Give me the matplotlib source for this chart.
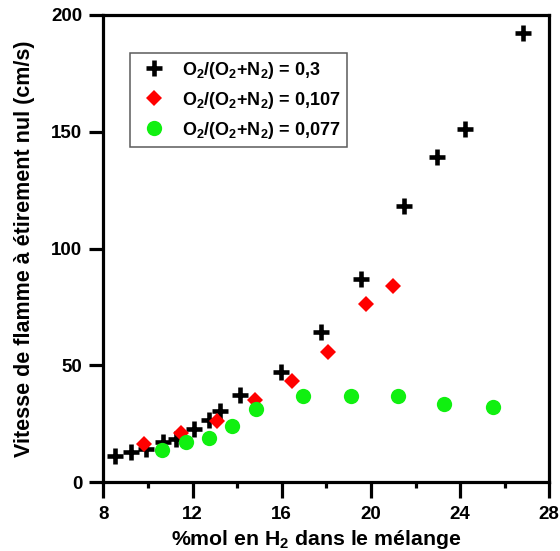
import matplotlib
matplotlib.use('Agg')
import matplotlib.pyplot as plt
from matplotlib.ticker import MultipleLocator

plt.rcParams['font.family'] = ['Liberation Sans', 'DejaVu Sans']
plt.rcParams['font.weight'] = 'bold'
plt.rcParams['mathtext.fontset'] = 'custom'
plt.rcParams['mathtext.rm'] = 'Liberation Sans:bold'
plt.rcParams['mathtext.bf'] = 'Liberation Sans:bold'
plt.rcParams['mathtext.default'] = 'bf'

# O2/(O2+N2) = 0,3
x_03 = [8.51, 9.24, 9.93, 10.68, 11.26, 12.05, 12.72, 13.25, 14.13, 15.95,
        17.76, 19.57, 21.49, 22.97, 24.22, 26.82]
y_03 = [11.3, 12.9, 14.0, 17.3, 18.5, 22.7, 26.5, 30.5, 37.1, 47.0,
        64.3, 86.9, 118.0, 139.2, 151.2, 192.1]
# O2/(O2+N2) = 0,107
x_0107 = [9.83, 11.47, 13.11, 14.81, 16.45, 18.09, 19.76, 21.01]
y_0107 = [16.4, 21.1, 26.3, 35.0, 43.3, 55.8, 76.1, 84.0]
# O2/(O2+N2) = 0,077
x_0077 = [10.65, 11.69, 12.75, 13.78, 14.84, 16.96, 19.11, 21.22, 23.29, 25.46]
y_0077 = [13.7, 17.0, 18.9, 24.2, 31.1, 37.0, 37.0, 37.0, 33.5, 32.0]

labels = [r'O$_2$/(O$_2$+N$_2$) = 0,3',
          r'O$_2$/(O$_2$+N$_2$) = 0,107',
          r'O$_2$/(O$_2$+N$_2$) = 0,077']

fig = plt.figure(figsize=(5.6, 5.51), dpi=100)
ax = fig.add_axes([0.1845, 0.1252, 0.7964, 0.8476])

ax.plot(x_03, y_03, linestyle='none', marker='+', color='black',
        markersize=11, markeredgewidth=3.3, label=labels[0])
ax.plot(x_0107, y_0107, linestyle='none', marker='D', color='#ff0000',
        markersize=8.3, markeredgewidth=0, label=labels[1])
ax.plot(x_0077, y_0077, linestyle='none', marker='o', color='#10f010',
        markersize=11, markeredgewidth=0, label=labels[2])

ax.set_xlim(8, 28)
ax.set_ylim(0, 200)
ax.xaxis.set_major_locator(MultipleLocator(4))
ax.xaxis.set_minor_locator(MultipleLocator(2))
ax.yaxis.set_major_locator(MultipleLocator(50))

for sp in ax.spines.values():
    sp.set_linewidth(2.3)
ax.tick_params(axis='x', which='major', direction='out', length=11.5, width=2.3,
               labelsize=13.5, pad=5.5)
ax.tick_params(axis='x', which='minor', direction='out', length=4.5, width=2.3)
ax.tick_params(axis='y', which='major', direction='out', length=10, width=2.3,
               labelsize=13.5, pad=5)
for lab in ax.get_xticklabels() + ax.get_yticklabels():
    lab.set_fontweight('bold')

ax.set_xlabel(r'%mol en H$_2$ dans le mélange', fontsize=15.3, fontweight='bold')
ax.xaxis.set_label_coords(0.478, -0.1355)
ax.xaxis.label.set_va('baseline')
ax.set_ylabel('Vitesse de flamme à étirement nul (cm/s)', fontsize=15.5,
              fontweight='bold')
ax.yaxis.set_label_coords(-0.1643, 0.5)
ax.yaxis.label.set_va('baseline')

leg = ax.legend(loc='upper left', bbox_to_anchor=(0.0599, 0.918), fontsize=13,
                frameon=True, fancybox=False, edgecolor='#333333',
                borderaxespad=0, borderpad=0.35, labelspacing=0.5,
                handletextpad=0.6, handlelength=1.95)
leg.get_frame().set_linewidth(1.1)
for t in leg.get_texts():
    t.set_fontweight('bold')

fig.savefig('out.png', dpi=100)
